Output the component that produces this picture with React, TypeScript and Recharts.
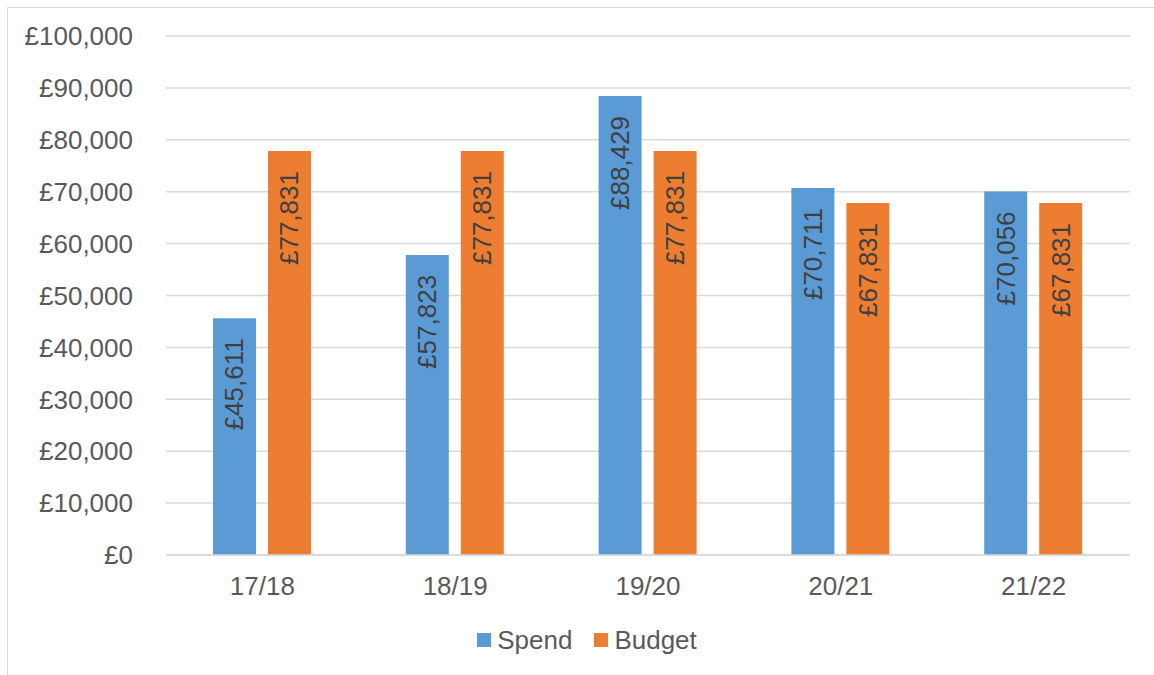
import { Bar, BarChart, CartesianGrid, LabelList, Legend, XAxis, YAxis } from "recharts";

const years = ["17/18", "18/19", "19/20", "20/21", "21/22"];
const spend = [45611, 57823, 88429, 70711, 70056];
const budget = [77831, 77831, 77831, 67831, 67831];
const yTicks = [0, 10000, 20000, 30000, 40000, 50000, 60000, 70000, 80000, 90000, 100000];
const seriesOrder = ["Spend", "Budget"];

const data = years.map((year, i) => ({ year, spend: spend[i], budget: budget[i] }));

const font = "'Liberation Sans', Arial, sans-serif";
const money = (v: number) => "£" + String(Math.round(v)).replace(/\B(?=(\d{3})+(?!\d))/g, ",");

function BarLabel(props: any) {
  const { x, y, width, value } = props;
  const cx = x + width / 2;
  const cy = y + 20;
  return (
    <text
      x={cx}
      y={cy}
      transform={`rotate(-90 ${cx} ${cy})`}
      textAnchor="end"
      dominantBaseline="central"
      fill="#404040"
      fontSize={26}
      fontFamily={font}
    >
      {money(value)}
    </text>
  );
}

function LegendBox({ payload }: any) {
  const items = [...(payload || [])].sort(
    (a: any, b: any) => seriesOrder.indexOf(a.value) - seriesOrder.indexOf(b.value)
  );
  return (
    <div
      style={{
        display: "flex",
        justifyContent: "center",
        alignItems: "center",
        height: 30,
        gap: 22,
        paddingLeft: 44,
        fontFamily: font,
        fontSize: 26,
        color: "#595959",
      }}
    >
      {items.map((p: any) => (
        <div key={p.value} style={{ display: "flex", alignItems: "center", gap: 6 }}>
          <span style={{ width: 14, height: 14, background: p.color, display: "inline-block" }} />
          <span>{p.value}</span>
        </div>
      ))}
    </div>
  );
}

export default function App() {
  return (
    <div
      style={{
        position: "fixed",
        left: 0,
        top: 0,
        width: 1154,
        height: 675,
        overflow: "hidden",
        background: "#fff",
      }}
    >
      <div
        style={{
          position: "absolute",
          left: 7,
          top: 7,
          width: 1200,
          height: 720,
          borderLeft: "1.5px solid #d9d9d9",
          borderTop: "1.5px solid #d9d9d9",
        }}
      />
      <div style={{ position: "absolute", left: 0, top: 0 }}>
        <BarChart
          width={1154}
          height={675}
          data={data}
          margin={{ top: 36, right: 24, left: 0, bottom: 20 }}
          barSize={43}
          barGap={12}
        >
          <CartesianGrid vertical={false} stroke="#d9d9d9" strokeWidth={1.5} />
          <XAxis
            dataKey="year"
            height={70}
            tickLine={false}
            tickSize={0}
            tickMargin={22}
            axisLine={{ stroke: "#d9d9d9", strokeWidth: 1.5 }}
            tick={{ fill: "#595959", fontSize: 26, fontFamily: font }}
          />
          <YAxis
            width={166}
            domain={[0, 100000]}
            ticks={yTicks}
            tickFormatter={money}
            tickLine={false}
            axisLine={false}
            tickSize={0}
            tickMargin={33}
            tick={{ fill: "#595959", fontSize: 26, fontFamily: font }}
          />
          <Legend verticalAlign="bottom" content={<LegendBox />} />
          <Bar dataKey="spend" name="Spend" fill="#5b9bd5" isAnimationActive={false}>
            <LabelList dataKey="spend" content={<BarLabel />} />
          </Bar>
          <Bar dataKey="budget" name="Budget" fill="#ed7d31" isAnimationActive={false}>
            <LabelList dataKey="budget" content={<BarLabel />} />
          </Bar>
        </BarChart>
      </div>
    </div>
  );
}
